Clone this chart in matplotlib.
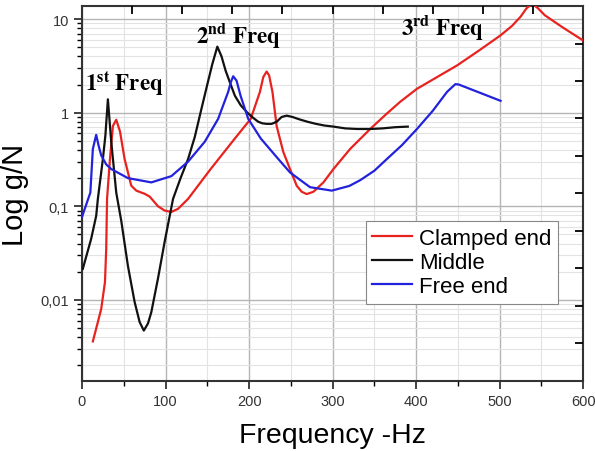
import numpy as np
import matplotlib
matplotlib.use("Agg")
import matplotlib.pyplot as plt
from matplotlib.ticker import FixedLocator, FuncFormatter, LogLocator, MultipleLocator, NullFormatter

plt.rcParams['font.family'] = ['Liberation Sans', 'DejaVu Sans']
plt.rcParams['mathtext.fontset'] = 'stix'

# Clamped end (red)
f_clamped = [13, 19, 23, 27.5, 29, 30, 33.5, 37, 41, 45.5, 51, 59, 65, 75, 81, 91, 99, 107,
             115, 127, 154, 183, 202, 213, 217, 221, 224, 228, 233, 241, 249, 257, 263, 269,
             277, 289, 301, 321, 345, 365, 381, 401, 425, 449, 475, 501, 515, 525, 532, 539,
             546, 554, 575, 600]
v_clamped = [0.0036, 0.0058, 0.008, 0.0155, 0.035, 0.12, 0.32, 0.72, 0.84, 0.63, 0.32, 0.166,
             0.147, 0.136, 0.127, 0.10, 0.09, 0.087, 0.094, 0.12, 0.25, 0.53, 0.86, 1.67, 2.4,
             2.75, 2.5, 1.67, 0.72, 0.38, 0.25, 0.166, 0.143, 0.135, 0.143, 0.18, 0.25, 0.41,
             0.67, 0.98, 1.31, 1.8, 2.4, 3.2, 4.6, 6.7, 8.5, 10.6, 13.0, 14.7, 13.0, 11.0, 8.2,
             5.9]

# Middle (black)
f_middle = [1, 11, 17, 19, 25, 28, 31, 35, 41, 47, 55, 63, 69, 74, 79, 83, 91, 99, 109,
            118, 127, 135, 143, 150, 156, 162, 167, 172, 178, 183, 190, 198, 205, 211, 216,
            221, 227, 233, 239, 245, 252, 260, 270, 280, 290, 301, 315, 329, 345, 360, 375,
            390]
v_middle = [0.0215, 0.045, 0.079, 0.12, 0.32, 0.57, 1.39, 0.49, 0.14, 0.07, 0.023, 0.0095,
            0.0058, 0.0047, 0.0056, 0.0074, 0.017, 0.042, 0.12, 0.2, 0.32, 0.55, 1.1, 2.0,
            3.3, 5.08, 4.0, 2.8, 2.0, 1.52, 1.2, 1.0, 0.88, 0.8, 0.77, 0.76, 0.76, 0.8, 0.9,
            0.93, 0.9, 0.85, 0.8, 0.76, 0.73, 0.71, 0.68, 0.67, 0.67, 0.68, 0.7, 0.71]

# Free end (blue)
f_free = [0, 10, 13, 17, 20, 23, 29, 35, 55, 83, 107, 127, 147, 163, 175, 178, 181, 185,
          190, 199, 214, 235, 249, 273, 299, 320, 333, 350, 365, 383, 401, 420, 437, 447,
          451, 501]
v_free = [0.077, 0.14, 0.41, 0.58, 0.44, 0.35, 0.28, 0.25, 0.2, 0.18, 0.21, 0.3, 0.49, 0.86,
          1.67, 2.1, 2.45, 2.2, 1.5, 0.86, 0.53, 0.32, 0.23, 0.16, 0.147, 0.165, 0.19, 0.24,
          0.32, 0.45, 0.67, 1.05, 1.67, 2.02, 2.0, 1.34]

fig = plt.figure(figsize=(5.95, 4.52), dpi=100)
ax = fig.add_axes([0.1378, 0.1549, 0.8424, 0.8296])

ax.plot(f_clamped, v_clamped, color='#e8231f', lw=1.6, label='Clamped end', zorder=3)
ax.plot(f_middle, v_middle, color='#111111', lw=1.6, label='Middle', zorder=3)
ax.plot(f_free, v_free, color='#2222dd', lw=1.6, label='Free end', zorder=3)

ax.set_yscale('log')
ax.set_xlim(0, 600)
ax.set_ylim(0.00136, 13.8)
ax.xaxis.set_major_locator(MultipleLocator(100))
ax.xaxis.set_minor_locator(MultipleLocator(50))
ax.yaxis.set_major_locator(FixedLocator([0.01, 0.1, 1, 10]))
ax.yaxis.set_minor_locator(LogLocator(base=10, subs=np.arange(2, 10)))
ax.yaxis.set_minor_formatter(NullFormatter())
ax.yaxis.set_major_formatter(FuncFormatter(lambda v, p: {0.01: '0,01', 0.1: '0,1', 1: '1', 10: '10'}.get(round(v, 2), '')))

ax.grid(True, which='major', color='#b5b5b5', lw=1.0, zorder=0)
ax.grid(True, which='minor', color='#e3e3e3', lw=0.8, zorder=0)
ax.tick_params(which='major', direction='out', length=6, width=1.3, labelsize=10.5, colors='#333333')
ax.tick_params(which='minor', direction='out', length=3.5, width=1.0)
for s in ax.spines.values():
    s.set_linewidth(1.5)
    s.set_color('#333333')

# unlabelled inward ticks on top and right
axt = ax.twiny()
axt.set_xlim(0, 1)
axt.set_xticks(np.arange(0.1, 1.0, 0.1))
axt.tick_params(direction='in', length=6, width=1.3, labeltop=False)
axr = ax.twinx()
axr.set_ylim(0, 1)
axr.set_yticks(np.arange(0.1, 1.0, 0.1))
axr.tick_params(direction='in', length=6, width=1.3, labelright=False)
for a in (axt, axr):
    for s in a.spines.values():
        s.set_visible(False)

ax.set_xlabel('Frequency -Hz', fontsize=20.5, labelpad=10)
ax.set_ylabel('Log g/N', fontsize=21, labelpad=8)

ax.text(4, 1.72, r'$\mathbf{1^{st}\ Freq}$', fontsize=16.5, ha='left', va='baseline', zorder=4)
ax.text(137, 5.75, r'$\mathbf{2^{nd}\ Freq}$', fontsize=16.5, ha='left', va='baseline', zorder=4)
ax.text(382, 7.0, r'$\mathbf{3^{rd}\ Freq}$', fontsize=16.5, ha='left', va='baseline', zorder=4)

leg = ax.legend(loc='upper right', bbox_to_anchor=(0.95, 0.427), borderaxespad=0,
                fontsize=16, handlelength=1.8, handletextpad=0.3, labelspacing=0.15,
                fancybox=False, edgecolor='#888888', framealpha=1, borderpad=0.3)
leg.get_frame().set_linewidth(0.8)
leg.set_zorder(5)

fig.savefig('out.png', dpi=100)
